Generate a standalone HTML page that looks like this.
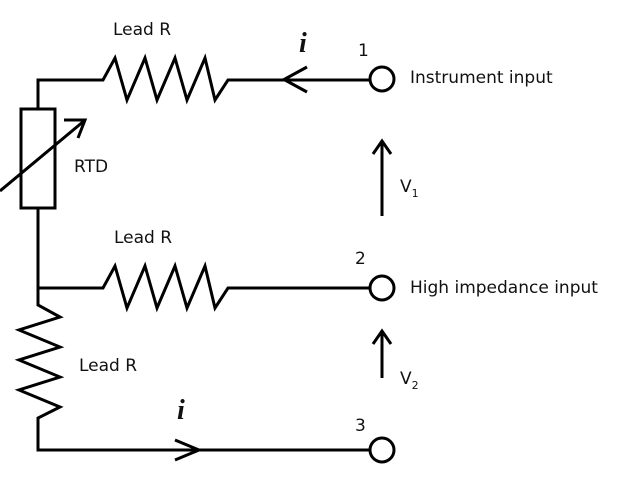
<!DOCTYPE html>
<html><head><meta charset="utf-8"><style>
body{margin:0;background:#fff}
svg{display:block}
text{font-family:"DejaVu Sans","Liberation Sans",sans-serif;font-size:17px;fill:#111}
.i{font-family:"Liberation Serif",serif;font-style:italic;font-weight:bold;font-size:28px}
</style></head><body>
<svg width="640" height="480" viewBox="0 0 640 480">
<g fill="none" stroke="#000" stroke-width="3" stroke-linejoin="miter">
<polyline points="38,109 38,80 103,80 115,58 127,100 145,58 157,100 175,58 187,100 205,58 215,100 228,80 370,80"/>
<rect x="21" y="109" width="34" height="99"/>
<line x1="0" y1="191" x2="84" y2="121"/>
<polyline points="64,120 85,120 78,138"/>
<polyline points="38,208 38,288 103,288 115,266 127,308 145,266 157,308 175,266 187,308 205,266 215,308 228,288 370,288"/>
<polyline points="38,288 38,305 60,317 19,330 60,347 19,360 60,377 19,390 60,407 38,418 38,450 370,450"/>
<polyline points="307,67 284,79.5 307,92"/>
<polyline points="175,440 199,450 175,460"/>
<circle cx="382" cy="79" r="12"/>
<circle cx="382" cy="288" r="12"/>
<circle cx="382" cy="450" r="12"/>
<line x1="382" y1="216" x2="382" y2="141"/>
<polyline points="373,154 382,141 391,154"/>
<line x1="382" y1="378" x2="382" y2="331"/>
<polyline points="373,344 382,331 391,344"/>
</g>
<text x="113" y="35">Lead R</text>
<text class="i" x="299" y="52">i</text>
<text x="358" y="56">1</text>
<text x="410" y="83">Instrument input</text>
<text x="74" y="172">RTD</text>
<text x="400" y="192">V<tspan font-size="11" dy="5">1</tspan></text>
<text x="114" y="243">Lead R</text>
<text x="355" y="264">2</text>
<text x="410" y="293">High impedance input</text>
<text x="79" y="371">Lead R</text>
<text x="400" y="384">V<tspan font-size="11" dy="5">2</tspan></text>
<text class="i" x="177" y="419">i</text>
<text x="355" y="431">3</text>
</svg>
</body></html>
